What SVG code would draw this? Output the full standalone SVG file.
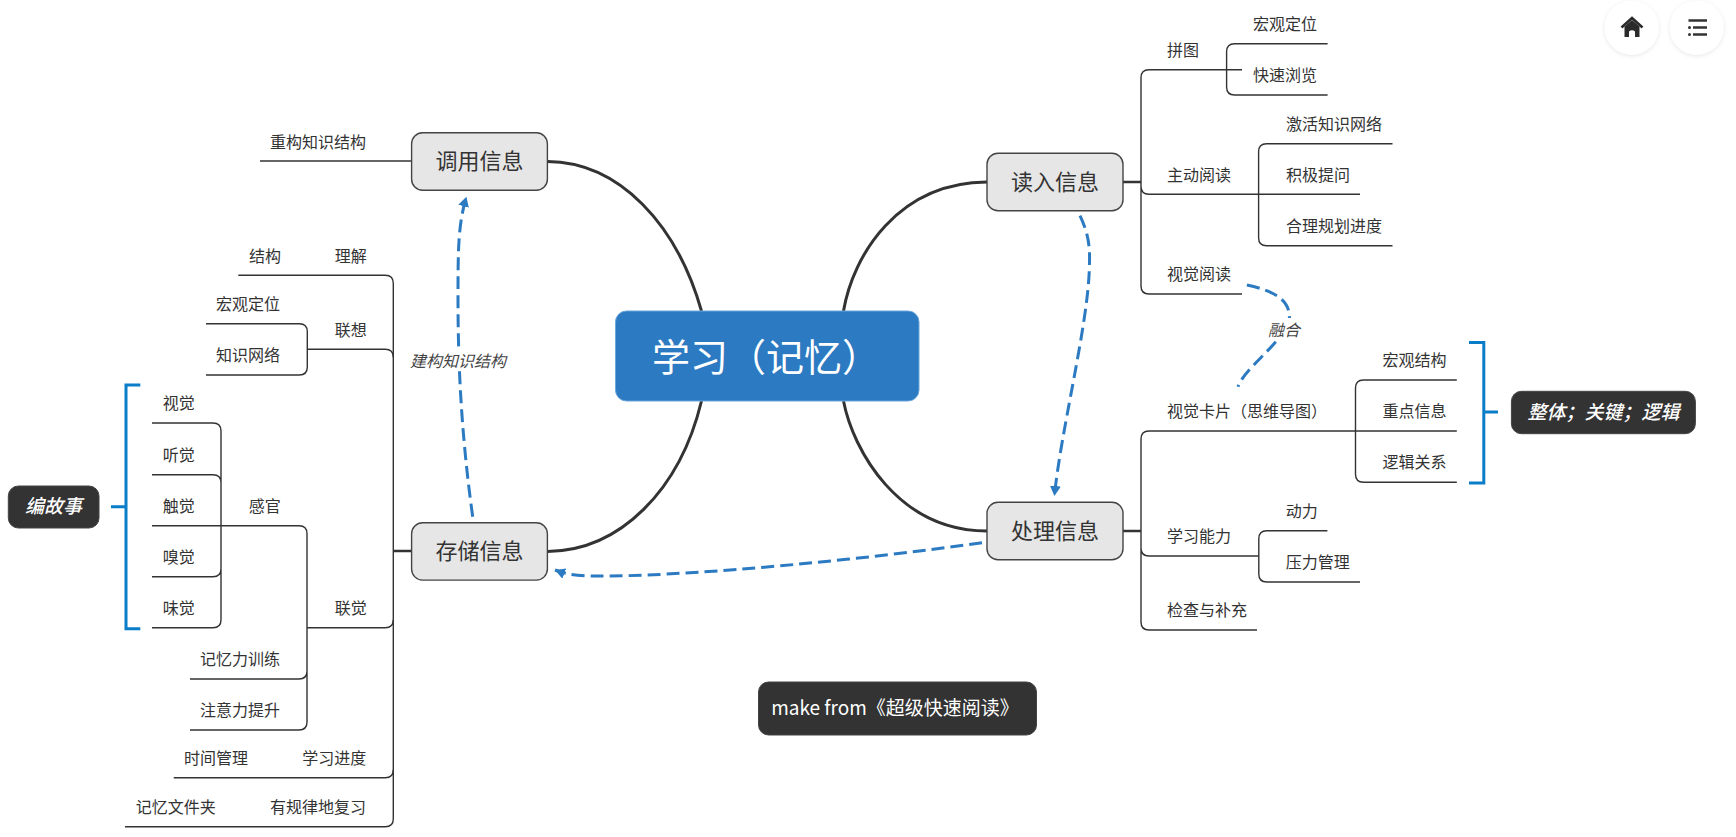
<svg xmlns="http://www.w3.org/2000/svg" width="1736" height="837" viewBox="0 0 1736 837">
<style>
text{font-family:"Noto Sans CJK SC","Noto Sans",sans-serif;fill:#333;font-size:16px}
.t{stroke:#333;stroke-width:1.4;fill:none}
.k{stroke:#333;stroke-width:3;fill:none}
.c{stroke:#333;stroke-width:2.4;fill:none}
.d{stroke:#2b7ac2;stroke-width:3;fill:none;stroke-dasharray:13 6}
.b{stroke:#0a7dc9;stroke-width:3;fill:none}
.n rect{fill:#e6e6e6;stroke:#444;stroke-width:1.4}
.n text{font-size:22px;text-anchor:middle}
.s rect{fill:#333;stroke:#444;stroke-width:1}
.s text{fill:#fff;font-size:19px;font-weight:500;font-style:italic;text-anchor:middle}
.l{font-size:16px;font-style:italic;fill:#444}
.w{fill:#fff;stroke:none;filter:url(#sh)}
</style>
<defs>
<marker id="a" markerUnits="userSpaceOnUse" markerWidth="12" markerHeight="12" refX="10" refY="5.5" orient="auto"><path d="M0,0L10,5.5L0,11z" fill="#2b7ac2"/></marker>
<filter id="sh" x="-20%" y="-20%" width="140%" height="140%"><feDropShadow dx="0" dy="1" stdDeviation="2" flood-color="#000" flood-opacity="0.1"/></filter>
</defs>
<g id="connectors">
<path class="k" d="M701.5,311C677,225 620,162 547.4,161.5"/>
<path class="k" d="M843.5,311C853,255 898,182.5 987,182"/>
<path class="k" d="M843.5,401C853,450 898,531 987,531"/>
<path class="k" d="M701.5,401C680,490 620,551 547.4,551.5"/>
<path class="c" d="M1123,182H1141M1123,531H1141M393.3,551H411.6"/>
<path class="t" d="M1141,77.7Q1141,69.7 1149,69.7H1227M1141,77.7V286Q1141,294 1149,294H1242M1141,186.3Q1141,194.3 1149,194.3H1360"/>
<path class="t" d="M1242,69.7H1226.6M1226.6,51.7Q1226.6,43.7 1234.6,43.7H1327.6M1226.6,51.7V87Q1226.6,95 1234.6,95H1327.6"/>
<path class="t" d="M1258.6,151.7Q1258.6,143.7 1266.6,143.7H1392.5M1258.6,151.7V237.7Q1258.6,245.7 1266.6,245.7H1392.5"/>
<path class="t" d="M1141,439Q1141,431 1149,431H1456.8M1141,439V622Q1141,630 1149,630H1257M1141,548Q1141,556 1149,556H1258.8"/>
<path class="t" d="M1355.5,388Q1355.5,380 1363.5,380H1456.8M1355.5,388V474.3Q1355.5,482.3 1363.5,482.3H1456.8"/>
<path class="t" d="M1258.8,538.7Q1258.8,530.7 1266.8,530.7H1327.4M1258.8,538.7V574Q1258.8,582 1266.8,582H1360"/>
<path class="t" d="M260,161H411.6"/>
<path class="t" d="M238.3,275.3H385.3Q393.3,275.3 393.3,283.3V818.7Q393.3,826.7 385.3,826.7H125"/>
<path class="t" d="M307.3,349.3H385.3Q393.3,349.3 393.3,357.3M393.3,619.7Q393.3,627.7 385.3,627.7H307M393.3,769.7Q393.3,777.7 385.3,777.7H173.7"/>
<path class="t" d="M206,323.7H299.3Q307.3,323.7 307.3,331.7V367Q307.3,375 299.3,375H206"/>
<path class="t" d="M221,525.7H299Q307,525.7 307,533.7V722Q307,730 299,730H190M307,671Q307,679 299,679H190"/>
<path class="t" d="M152,423H213Q221,423 221,431V619.7Q221,627.7 213,627.7H152M152,474.7H213Q221,474.7 221,482.7M152,525.7H221M152,576.7H213Q221,576.7 221,568.7"/>
<path class="d" marker-end="url(#a)" d="M1080,215.7C1090,237 1090,250 1089.3,270C1087,330 1061,430 1054.4,496"/>
<path class="d" marker-end="url(#a)" d="M982,542.7C860,560 700,575 610,576C580,576.5 568,575 555,570"/>
<path class="d" marker-end="url(#a)" d="M472.7,516.7C462,440 458,370 458,300C458,250 458,225 466.4,196.7"/>
<path class="d" d="M1246.9,285C1270,290 1290,298 1289.4,318"/>
<path class="d" d="M1275.8,341.7C1262,358 1243,373 1238,386.7"/>
<path class="b" d="M1469,342.5H1483.8V483H1469M1483.8,412H1498"/>
<path class="b" d="M140.3,385H126V628.7H140.3M126,506.7H111"/>
</g>
<g id="root"><rect x="615.5" y="311" width="303.5" height="90" rx="11" fill="#2b7ac2" stroke="#6aa6da" stroke-width="1"/><text x="652" y="371" style="font-size:38px;fill:#fff">学习（记忆）</text></g>
<g id="diaoyong" class="n"><rect x="411.6" y="132.7" width="135.8" height="57.6" rx="11"/><text x="479.5" y="169">调用信息</text></g>
<g id="duru" class="n"><rect x="987" y="153.3" width="136" height="57.4" rx="11"/><text x="1055" y="190">读入信息</text></g>
<g id="chuli" class="n"><rect x="987" y="502.3" width="136" height="57.4" rx="11"/><text x="1055" y="539">处理信息</text></g>
<g id="cunchu" class="n"><rect x="411.6" y="522.7" width="135.8" height="57.4" rx="11"/><text x="479.5" y="559">存储信息</text></g>
<g id="zhengti" class="s"><rect x="1511.4" y="391.3" width="184" height="42.4" rx="10"/><text x="1603.4" y="419">整体；关键；逻辑</text></g>
<g id="gushi" class="s"><rect x="8.3" y="486" width="90.7" height="42" rx="10"/><text x="53.6" y="513">编故事</text></g>
<g id="source" class="s"><rect x="758.5" y="682" width="278" height="53" rx="10"/><text x="895" y="715" style="font-weight:normal;font-style:normal">make from《超级快速阅读》</text></g>
<g id="labels">
<text x="1253" y="30">宏观定位</text>
<text x="1253" y="81">快速浏览</text>
<text x="1167" y="56">拼图</text>
<text x="1286" y="130">激活知识网络</text>
<text x="1286" y="181">积极提问</text>
<text x="1286" y="232">合理规划进度</text>
<text x="1167" y="181">主动阅读</text>
<text x="1167" y="280">视觉阅读</text>
<text x="1167" y="417">视觉卡片（思维导图）</text>
<text x="1382.6" y="366">宏观结构</text>
<text x="1382.6" y="417">重点信息</text>
<text x="1382.6" y="468">逻辑关系</text>
<text x="1167" y="542">学习能力</text>
<text x="1285.8" y="517">动力</text>
<text x="1285.8" y="568">压力管理</text>
<text x="1167" y="616">检查与补充</text>
<text x="270" y="147.5">重构知识结构</text>
<text x="249" y="262">结构</text>
<text x="334.7" y="262">理解</text>
<text x="216" y="310">宏观定位</text>
<text x="216" y="361">知识网络</text>
<text x="334.7" y="336">联想</text>
<text x="162.7" y="409">视觉</text>
<text x="162.7" y="461">听觉</text>
<text x="162.7" y="512">触觉</text>
<text x="162.7" y="563">嗅觉</text>
<text x="162.7" y="614">味觉</text>
<text x="248.7" y="512">感官</text>
<text x="334.7" y="614">联觉</text>
<text x="200" y="665">记忆力训练</text>
<text x="200" y="716">注意力提升</text>
<text x="184" y="764">时间管理</text>
<text x="302.3" y="764">学习进度</text>
<text x="135.7" y="813">记忆文件夹</text>
<text x="270" y="813">有规律地复习</text>
<text class="l" x="1268" y="336">融合</text>
<rect x="410" y="352" width="100" height="19" fill="#fff"/>
<text class="l" x="410" y="367">建构知识结构</text>
</g>
<g id="home"><circle class="w" cx="1631.7" cy="27.7" r="27"/><path d="M1621.5,27.5L1632,18L1642.5,27.5" fill="none" stroke="#2a2a2a" stroke-width="2.6"/><path d="M1624.5,37V26.5L1632,20L1639.5,26.5V37H1635V31.5Q1632,29 1629,31.5V37Z" fill="#2a2a2a"/></g>
<g id="menu"><circle class="w" cx="1696.7" cy="27.7" r="27"/><path d="M1688.5,20.5H1707M1693,27.5H1707M1693,34.5H1707" stroke="#333" stroke-width="2.6" fill="none"/><circle cx="1689.5" cy="27.5" r="1.5" fill="#333"/><circle cx="1689.5" cy="34.5" r="1.5" fill="#333"/></g>
</svg>
